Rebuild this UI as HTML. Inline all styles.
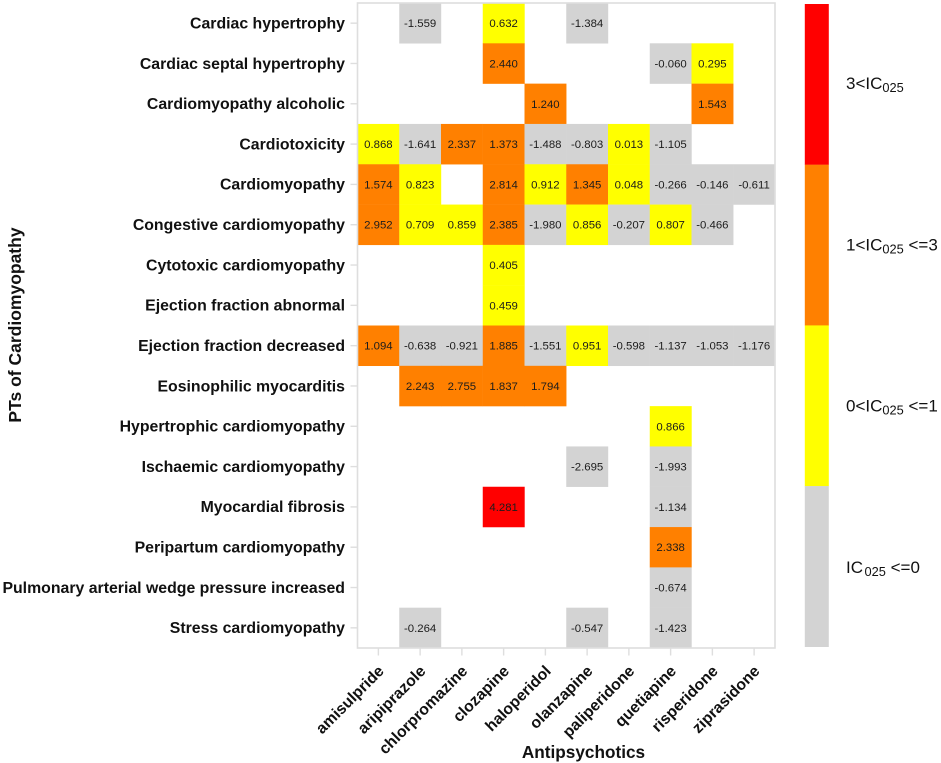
<!DOCTYPE html>
<html><head><meta charset="utf-8"><title>IC025 heatmap</title>
<style>
html,body{margin:0;padding:0;background:#fff;width:941px;height:763px;overflow:hidden}
svg{display:block;font-family:"Liberation Sans",Arial,sans-serif}
</style></head>
<body>
<svg id="chart" xmlns="http://www.w3.org/2000/svg" width="941" height="763" viewBox="0 0 941 763">
<g id="cells"></g>
<rect x="357.5" y="3" width="417.5" height="645" fill="none" stroke="#dedede" stroke-width="1.6"/>
<g id="yaxis"></g>
<g id="xaxis"></g>
<text x="583.5" y="758" text-anchor="middle" font-size="17.2" font-weight="bold" fill="#111">Antipsychotics</text>
<text transform="translate(21,325) rotate(-90)" text-anchor="middle" font-size="17.5" font-weight="bold" fill="#111">PTs of Cardiomyopathy</text>
<g id="legend"></g>
</svg>
<script>
const drugs = ["amisulpride","aripiprazole","chlorpromazine","clozapine","haloperidol","olanzapine","paliperidone","quetiapine","risperidone","ziprasidone"];
const terms = ["Cardiac hypertrophy","Cardiac septal hypertrophy","Cardiomyopathy alcoholic","Cardiotoxicity","Cardiomyopathy","Congestive cardiomyopathy","Cytotoxic cardiomyopathy","Ejection fraction abnormal","Ejection fraction decreased","Eosinophilic myocarditis","Hypertrophic cardiomyopathy","Ischaemic cardiomyopathy","Myocardial fibrosis","Peripartum cardiomyopathy","Pulmonary arterial wedge pressure increased","Stress cardiomyopathy"];
const _ = null;
const icValues = [
 [_,-1.559,_,0.632,_,-1.384,_,_,_,_],
 [_,_,_,2.440,_,_,_,-0.060,0.295,_],
 [_,_,_,_,1.240,_,_,_,1.543,_],
 [0.868,-1.641,2.337,1.373,-1.488,-0.803,0.013,-1.105,_,_],
 [1.574,0.823,_,2.814,0.912,1.345,0.048,-0.266,-0.146,-0.611],
 [2.952,0.709,0.859,2.385,-1.980,0.856,-0.207,0.807,-0.466,_],
 [_,_,_,0.405,_,_,_,_,_,_],
 [_,_,_,0.459,_,_,_,_,_,_],
 [1.094,-0.638,-0.921,1.885,-1.551,0.951,-0.598,-1.137,-1.053,-1.176],
 [_,2.243,2.755,1.837,1.794,_,_,_,_,_],
 [_,_,_,_,_,_,_,0.866,_,_],
 [_,_,_,_,_,-2.695,_,-1.993,_,_],
 [_,_,_,4.281,_,_,_,-1.134,_,_],
 [_,_,_,_,_,_,_,2.338,_,_],
 [_,_,_,_,_,_,_,-0.674,_,_],
 [_,-0.264,_,_,_,-0.547,_,-1.423,_,_]
];
const legendLabels = [["3<IC","025",""],["1<IC","025"," <=3"],["0<IC","025"," <=1"],["IC","025"," <=0"]];
const legendColors = ["#ff0000","#ff8000","#ffff00","#d3d3d3"];

const NS = "http://www.w3.org/2000/svg";
const panel = {left:357.5, right:775, top:3, bottom:648};
const bandW = (panel.right-panel.left)/drugs.length;
const bandH = (panel.bottom-panel.top)/terms.length;
const xScale = i => panel.left + i*bandW;
const yScale = i => panel.top + i*bandH;
function colorFor(v){ return v>3 ? legendColors[0] : v>1 ? legendColors[1] : v>0 ? legendColors[2] : legendColors[3]; }
function mk(tag, attrs, parent){
  const el = document.createElementNS(NS, tag);
  for(const k in attrs) el.setAttribute(k, attrs[k]);
  parent.appendChild(el);
  return el;
}
const cells = document.getElementById("cells");
icValues.forEach((row,r)=>row.forEach((v,c)=>{
  if(v===null) return;
  const rect = mk("rect",{x:xScale(c),y:yScale(r),width:bandW+0.2,height:bandH+0.2,fill:colorFor(v)},cells);
  
  
}));
icValues.forEach((row,r)=>row.forEach((v,c)=>{
  if(v===null) return;
  const t = mk("text",{x:xScale(c)+bandW/2,y:yScale(r)+bandH/2+4,"text-anchor":"middle","font-size":"11.4",fill:"#1c1c1c"},cells);
  
  
  t.textContent = v.toFixed(3);
}));
const yaxis = document.getElementById("yaxis");
terms.forEach((name,r)=>{
  const yc = yScale(r)+bandH/2;
  const tick = mk("line",{x1:350.5,x2:357,y1:yc,y2:yc,stroke:"#dedede","stroke-width":"1.4"},yaxis);
  
  
  const t = mk("text",{x:345,y:yc+5.3,"text-anchor":"end","font-size":"15.85","font-weight":"bold",fill:"#111"},yaxis);
  
  
  t.textContent = name;
});
const xaxis = document.getElementById("xaxis");
drugs.forEach((name,c)=>{
  const xc = xScale(c)+bandW/2;
  const tick = mk("line",{x1:xc,x2:xc,y1:648.5,y2:655.5,stroke:"#dedede","stroke-width":"1.4"},xaxis);
  
  
  const t = mk("text",{transform:"translate("+(xc+6.5)+",672) rotate(-45)","text-anchor":"end","font-size":"15.8","font-weight":"bold",fill:"#111"},xaxis);
  
  
  t.textContent = name;
});
const legend = document.getElementById("legend");
const legTop = 4, legH = 160.7, labelTop = 89, labelStep = 161.3;
legendColors.forEach((col,i)=>{
  const y = legTop+i*legH;
  const rect = mk("rect",{x:804.8,y:y,width:24,height:legH+0.2,fill:col},legend);
  
  
  const t = mk("text",{x:846,y:labelTop+i*labelStep,"font-size":"17",fill:"#111"},legend);
  
  
  const parts = legendLabels[i];
  t.appendChild(document.createTextNode(parts[0]));
  const sub = mk("tspan",{"font-size":"12.8",dy:"3",dx:i===3?"1.5":"0"},t);
  sub.textContent = parts[1];
  const rest = mk("tspan",{dy:"-3"},t);
  rest.textContent = parts[2];
});
</script>
</body></html>
